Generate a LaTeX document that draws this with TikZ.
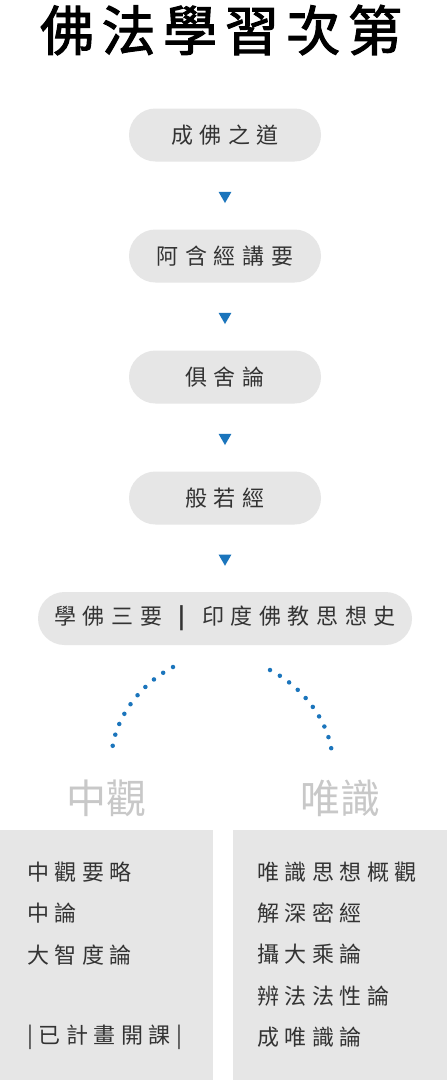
\documentclass[tikz,border=0pt]{standalone}
\usepackage{fontspec}
\usetikzlibrary{shapes.geometric,calc}
\newfontfamily\cjktitle[LetterSpace=14,FakeBold=2]{Noto Sans CJK TC}
\newfontfamily\cjkpill[LetterSpace=30]{Noto Sans CJK TC}
\newfontfamily\cjkbox[LetterSpace=25]{Noto Sans CJK TC}
\newfontfamily\cjklabel{Noto Sans CJK TC}
\definecolor{pillgray}{HTML}{E6E6E6}
\definecolor{txtdark}{HTML}{333333}
\definecolor{arrowblue}{HTML}{1B75BC}
\definecolor{labelgray}{HTML}{C8C8C8}
\tikzset{
  pill/.style={fill=pillgray, rounded corners=26.5pt, minimum width=192pt, minimum height=53pt,
    inner sep=0pt, text=txtdark, font=\cjkpill\fontsize{22}{26}\selectfont},
  tri/.style={regular polygon, regular polygon sides=3, shape border rotate=180,
    fill=arrowblue, minimum size=15pt, inner sep=0pt},
  dotarc/.style={arrowblue, line width=4.5pt, line cap=round, dash pattern=on 0pt off 11.4pt},
  branch/.style={text=labelgray, font=\cjklabel\fontsize{40}{44}\selectfont, inner sep=0pt},
  panel/.style={fill=pillgray, draw=none},
  item/.style={anchor=west, inner sep=0pt, text=txtdark, font=\cjkbox\fontsize{22}{26}\selectfont}
}
\begin{document}
\begin{tikzpicture}[x=1pt,y=-1pt]
\useasboundingbox (0,0) rectangle (447,1080);
\fill[white] (0,0) rectangle (447,1080);
\node[inner sep=0pt, font=\cjktitle\fontsize{54}{60}\selectfont] (title) at (221,30) {佛法學習次第};
\node[pill] (p1) at (225,135) {成佛之道};
\node[pill] (p2) at (225,256) {阿含經講要};
\node[pill] (p3) at (225,377) {俱舍論};
\node[pill] (p4) at (225,498) {般若經};
\node[pill, minimum width=374pt] (p5) at (225,618.5) {學佛三要\hspace{16pt}{\bfseries|}\hspace{17pt}印度佛教思想史};
\node[tri] (t1) at ($(p1.south)!0.5!(p2.north)$) {};
\node[tri] (t2) at ($(p2.south)!0.5!(p3.north)$) {};
\node[tri] (t3) at ($(p3.south)!0.5!(p4.north)$) {};
\node[tri] (t4) at ($(p4.south)!0.5!(p5.north)$) {};
\coordinate (la) at (173,667);
\coordinate (lb) at (112,751);
\coordinate (ra) at (270,670);
\coordinate (rb) at (332,754);
\draw[dotarc] (la) .. controls (142,683) and (115.5,716) .. (lb);
\draw[dotarc] (ra) .. controls (301,686) and (328.5,719) .. (rb);
\node[branch] (zg) at (106,798) {中觀};
\node[branch] (wsh) at (340,798) {唯識};
\path[panel] (0,830) rectangle (213,1080);
\path[panel] (233,830) rectangle (447,1080);
\node[item] (l1) at (27,872) {中觀要略};
\node[item] (l2) at (27,913) {中論};
\node[item] (l3) at (27,955) {大智度論};
\node[item] (l4) at (27,1037) {|已計畫開課|};
\node[item] (r1) at (257,872) {唯識思想概觀};
\node[item] (r2) at (257,913) {解深密經};
\node[item] (r3) at (257,954) {攝大乘論};
\node[item] (r4) at (257,996) {辨法法性論};
\node[item] (r5) at (257,1037) {成唯識論};
\end{tikzpicture}
\end{document}
